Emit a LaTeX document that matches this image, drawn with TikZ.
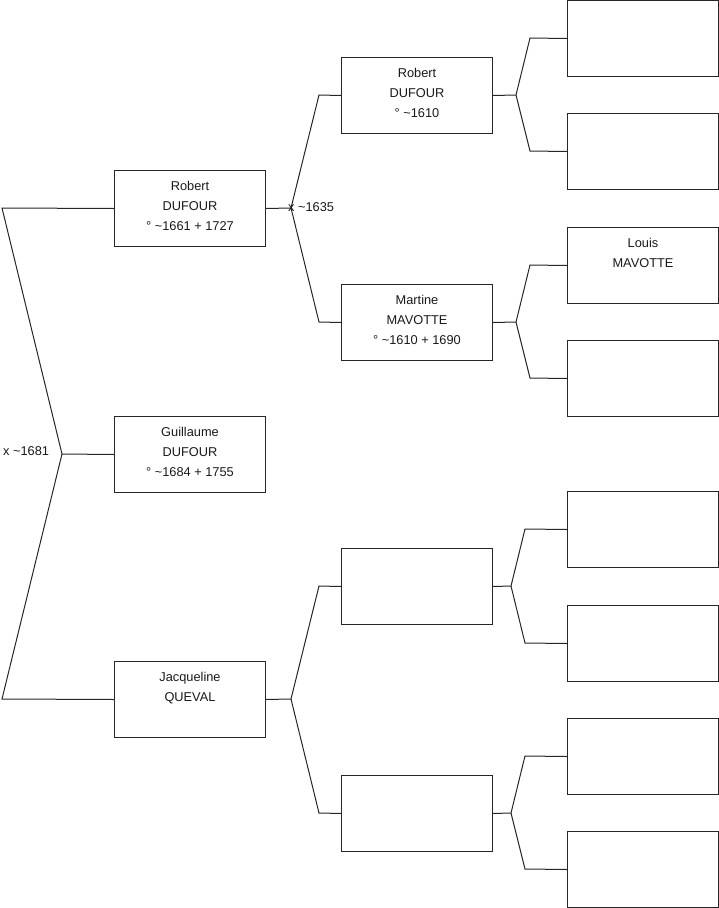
\documentclass[tikz,border=0pt]{standalone}
\usepackage{fontspec}
\setmainfont{Liberation Sans}
\begin{document}
\begin{tikzpicture}[x=1pt,y=-1pt,
  pbox/.style={draw=black!85, line width=1pt, minimum width=151pt, minimum height=76pt, anchor=north west, inner sep=0pt},
  ptxt/.style={font=\fontsize{12.8}{20}\selectfont, align=center, anchor=north, inner sep=0pt, text=black!90},
  conn/.style={draw=black!85, line width=1pt},
  lbl/.style={font=\fontsize{12.8}{14}\selectfont, anchor=west, inner sep=0pt, text=black!90}]
\useasboundingbox (0,0) rectangle (719,908);
% generation 1
\node[pbox] (g1a) at (114,170) {};
\node[pbox] (g1b) at (114,416) {};
\node[pbox] (g1c) at (114,661) {};
% generation 2
\node[pbox] (g2a) at (341,57) {};
\node[pbox] (g2b) at (341,284) {};
\node[pbox] (g2c) at (341,548) {};
\node[pbox] (g2d) at (341,775) {};
% generation 3
\node[pbox] (g3a) at (567,0) {};
\node[pbox] (g3b) at (567,113) {};
\node[pbox] (g3c) at (567,227) {};
\node[pbox] (g3d) at (567,340) {};
\node[pbox] (g3e) at (567,491) {};
\node[pbox] (g3f) at (567,605) {};
\node[pbox] (g3g) at (567,718) {};
\node[pbox] (g3h) at (567,831) {};
% texts
\node[ptxt] (t1a) at ([yshift=-11pt]g1a.north) {Robert\\DUFOUR\\° \textasciitilde1661 + 1727};
\node[ptxt] (t1b) at ([yshift=-11pt]g1b.north) {Guillaume\\DUFOUR\\° \textasciitilde1684 + 1755};
\node[ptxt] (t1c) at ([yshift=-11pt]g1c.north) {Jacqueline\\QUEVAL};
\node[ptxt] (t2a) at ([yshift=-11pt]g2a.north) {Robert\\DUFOUR\\° \textasciitilde1610};
\node[ptxt] (t2b) at ([yshift=-11pt]g2b.north) {Martine\\MAVOTTE\\° \textasciitilde1610 + 1690};
\node[ptxt] (t3c) at ([yshift=-11pt]g3c.north) {Louis\\MAVOTTE};
% junction coordinates
\coordinate (a1) at (2,208);
\coordinate (j1) at (62,454);
\coordinate (a3) at (2,699);
\coordinate (j2) at (291,208);
\coordinate (b1) at (319,95);
\coordinate (b2) at (319,322);
\coordinate (j3) at (291,699);
\coordinate (b3) at (319,586);
\coordinate (b4) at (319,813);
\coordinate (j4) at (516,95);
\coordinate (c1) at (530,38);
\coordinate (c2) at (530,151);
\coordinate (j5) at (516,322);
\coordinate (c3) at (530,265);
\coordinate (c4) at (530,378);
\coordinate (j6) at (511,586);
\coordinate (c5) at (525,529);
\coordinate (c6) at (525,643);
\coordinate (j7) at (511,813);
\coordinate (c7) at (525,756);
\coordinate (c8) at (525,869);
% connectors
\draw[conn] (g1a.west) -- (a1) -- (j1) -- (a3) -- (g1c.west);
\draw[conn] (j1) -- (g1b.west);
\draw[conn] (g1a.east) -- (j2);
\draw[conn] (j2) -- (b1) -- (g2a.west);
\draw[conn] (j2) -- (b2) -- (g2b.west);
\draw[conn] (g1c.east) -- (j3);
\draw[conn] (j3) -- (b3) -- (g2c.west);
\draw[conn] (j3) -- (b4) -- (g2d.west);
\draw[conn] (g2a.east) -- (j4);
\draw[conn] (j4) -- (c1) -- (g3a.west);
\draw[conn] (j4) -- (c2) -- (g3b.west);
\draw[conn] (g2b.east) -- (j5);
\draw[conn] (j5) -- (c3) -- (g3c.west);
\draw[conn] (j5) -- (c4) -- (g3d.west);
\draw[conn] (g2c.east) -- (j6);
\draw[conn] (j6) -- (c5) -- (g3e.west);
\draw[conn] (j6) -- (c6) -- (g3f.west);
\draw[conn] (g2d.east) -- (j7);
\draw[conn] (j7) -- (c7) -- (g3g.west);
\draw[conn] (j7) -- (c8) -- (g3h.west);
% marriage labels
\node[lbl] (m1) at (3,451) {x \textasciitilde1681};
\node[lbl] (m2) at (288,207) {x \textasciitilde1635};
\end{tikzpicture}
\end{document}
